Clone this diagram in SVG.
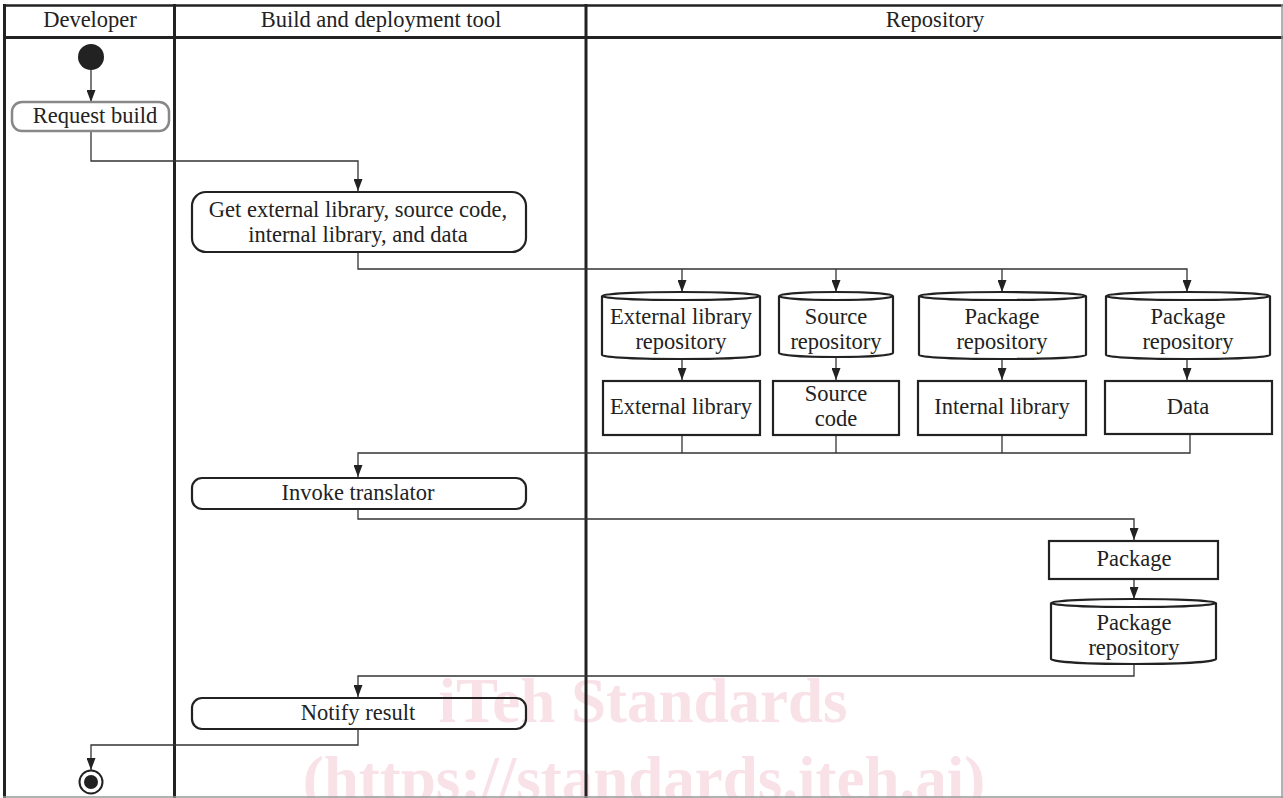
<svg xmlns="http://www.w3.org/2000/svg" width="1283" height="798" viewBox="0 0 1283 798">
<defs>
<marker id="arr" markerUnits="userSpaceOnUse" markerWidth="12" markerHeight="9" refX="12" refY="4.5" orient="auto">
<path d="M0,0 L12,4.5 L0,9 z" fill="#222"/>
</marker>
<style>
.t{font-family:"Liberation Serif","Times New Roman",serif;font-size:22.5px;fill:#222;text-anchor:middle}
.wm{font-family:"Liberation Serif","Times New Roman",serif;font-weight:bold;font-size:63px;fill:#f9e1e8;text-anchor:middle}
.lane{stroke:#222;stroke-width:3;fill:none}
.box{stroke:#222;stroke-width:2.2;fill:none}
.c{stroke:#333;stroke-width:1.3;fill:none}
.ca{stroke:#333;stroke-width:1.3;fill:none;marker-end:url(#arr)}
</style>
</defs>
<rect width="1283" height="798" fill="#fff"/>
<g id="watermark">
<text class="wm" x="643" y="722">iTeh Standards</text>
<text class="wm" x="644" y="800">(https://standards.iteh.ai)</text>
</g>
<g id="lanes">
<line x1="3" y1="5.5" x2="1283" y2="5.5" stroke="#222" stroke-width="2.5"/>
<line x1="3" y1="37.5" x2="1283" y2="37.5" stroke="#222" stroke-width="3"/>
<line class="lane" x1="4.5" y1="4" x2="4.5" y2="798"/>
<line class="lane" x1="174.5" y1="4" x2="174.5" y2="798"/>
<line class="lane" x1="586" y1="4" x2="586" y2="798"/>
<line x1="1282" y1="4" x2="1282" y2="798" stroke="#999" stroke-width="1.5"/>
<line x1="3" y1="797" x2="1283" y2="797" stroke="#999" stroke-width="1.5"/>
<text class="t" x="90" y="27">Developer</text>
<text class="t" x="381" y="27">Build and deployment tool</text>
<text class="t" x="935" y="27">Repository</text>
</g>
<g id="connectors">
<line class="ca" x1="91" y1="70" x2="91" y2="102"/>
<polyline class="ca" points="91,131 91,161 358,161 358,191"/>
<polyline class="ca" points="358,252 358,269 1187,269 1187,292"/>
<line class="ca" x1="682" y1="269" x2="682" y2="292"/>
<line class="ca" x1="836" y1="269" x2="836" y2="292"/>
<line class="ca" x1="1002" y1="269" x2="1002" y2="292"/>
<line class="ca" x1="682" y1="359" x2="682" y2="380"/>
<line class="ca" x1="836" y1="357" x2="836" y2="380"/>
<line class="ca" x1="1002" y1="359" x2="1002" y2="380"/>
<line class="ca" x1="1187" y1="359" x2="1187" y2="380"/>
<line class="c" x1="682" y1="435" x2="682" y2="453"/>
<line class="c" x1="836" y1="435" x2="836" y2="453"/>
<line class="c" x1="1002" y1="435" x2="1002" y2="453"/>
<polyline class="ca" points="1190,434 1190,453 358,453 358,477"/>
<polyline class="ca" points="358,509 358,519 1134,519 1134,540"/>
<line class="ca" x1="1134" y1="579" x2="1134" y2="599"/>
<polyline class="ca" points="1134,664 1134,676 358,676 358,697"/>
<polyline class="ca" points="358,729 358,745 91,745 91,770"/>
</g>
<g id="start">
<circle cx="91" cy="57" r="13" fill="#222"/>
</g>
<g id="request-build">
<rect x="12" y="102" width="157" height="29" rx="10" fill="none" stroke="#888" stroke-width="2.5"/>
<text class="t" x="95" y="123">Request build</text>
</g>
<g id="get-inputs">
<rect class="box" x="192" y="192" width="334" height="60" rx="14"/>
<text class="t" x="358" y="217">Get external library, source code,</text>
<text class="t" x="358" y="242">internal library, and data</text>
</g>
<g id="ext-lib-repo">
<path class="box" d="M602,296 L602,355 A79,4 0 0 0 760,355 L760,296"/>
<ellipse class="box" cx="681" cy="296" rx="79" ry="4"/>
<text class="t" x="681" y="324">External library</text>
<text class="t" x="681" y="349">repository</text>
</g>
<g id="source-repo">
<path class="box" d="M779,296 L779,353 A57,4 0 0 0 893,353 L893,296"/>
<ellipse class="box" cx="836" cy="296" rx="57" ry="4"/>
<text class="t" x="836" y="324">Source</text>
<text class="t" x="836" y="349">repository</text>
</g>
<g id="package-repo-1">
<path class="box" d="M919,296 L919,355 A83.5,4 0 0 0 1086,355 L1086,296"/>
<ellipse class="box" cx="1002.5" cy="296" rx="83.5" ry="4"/>
<text class="t" x="1002" y="324">Package</text>
<text class="t" x="1002" y="349">repository</text>
</g>
<g id="package-repo-2">
<path class="box" d="M1106,296 L1106,355 A82,4 0 0 0 1270,355 L1270,296"/>
<ellipse class="box" cx="1188" cy="296" rx="82" ry="4"/>
<text class="t" x="1188" y="324">Package</text>
<text class="t" x="1188" y="349">repository</text>
</g>
<g id="external-library">
<rect class="box" x="603" y="381" width="157" height="54"/>
<text class="t" x="681" y="414">External library</text>
</g>
<g id="source-code">
<rect class="box" x="773" y="381" width="126" height="54"/>
<text class="t" x="836" y="401">Source</text>
<text class="t" x="836" y="426">code</text>
</g>
<g id="internal-library">
<rect class="box" x="918" y="381" width="168" height="54"/>
<text class="t" x="1002" y="414">Internal library</text>
</g>
<g id="data">
<rect class="box" x="1105" y="381" width="167" height="53"/>
<text class="t" x="1188" y="414">Data</text>
</g>
<g id="invoke-translator">
<rect class="box" x="192" y="478" width="334" height="31" rx="10"/>
<text class="t" x="358" y="500">Invoke translator</text>
</g>
<g id="package">
<rect class="box" x="1049" y="541" width="169" height="38"/>
<text class="t" x="1134" y="566">Package</text>
</g>
<g id="package-repo-3">
<path class="box" d="M1051,603 L1051,659 A82.5,5 0 0 0 1216,659 L1216,603"/>
<ellipse class="box" cx="1133.5" cy="603" rx="82.5" ry="4"/>
<text class="t" x="1134" y="630">Package</text>
<text class="t" x="1134" y="655">repository</text>
</g>
<g id="notify-result">
<rect class="box" x="192" y="698" width="334" height="31" rx="10"/>
<text class="t" x="358" y="720">Notify result</text>
</g>
<g id="end">
<circle cx="91" cy="782" r="11.5" fill="#fff" stroke="#222" stroke-width="2"/>
<circle cx="91" cy="782" r="7" fill="#222"/>
</g>
</svg>
